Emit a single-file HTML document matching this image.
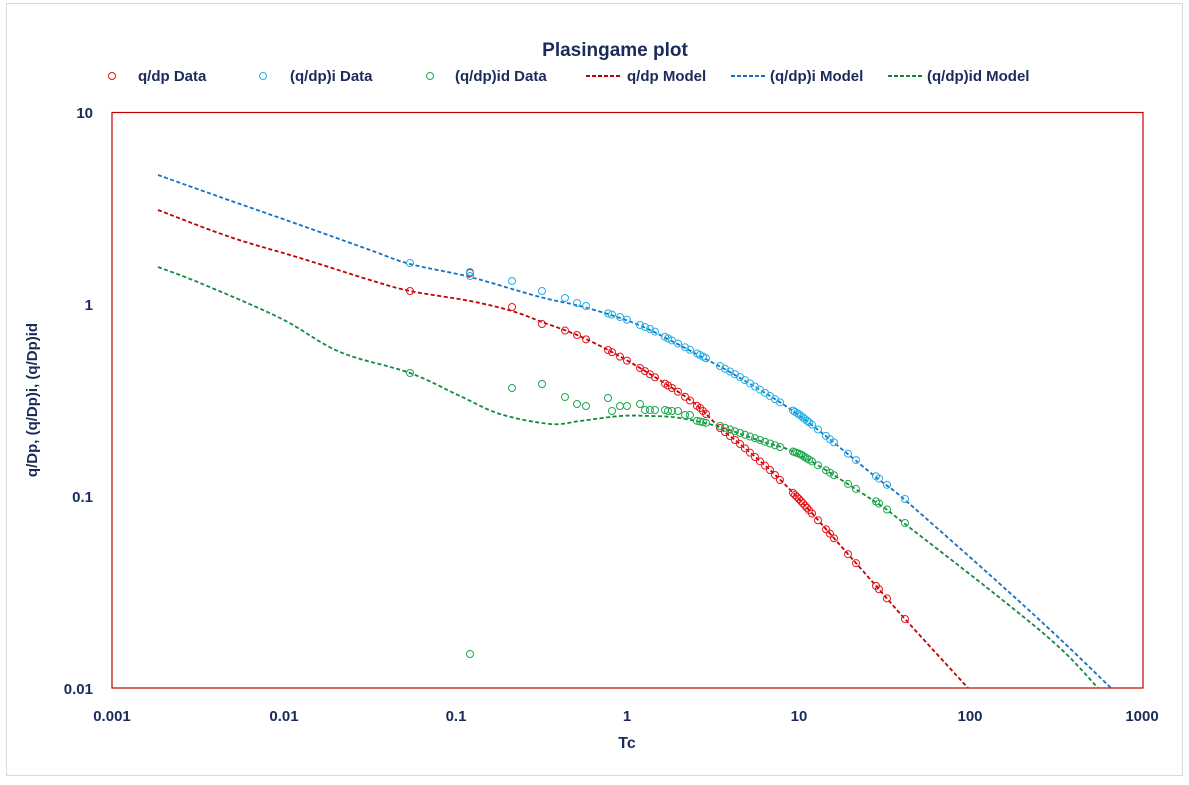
<!DOCTYPE html>
<html><head><meta charset="utf-8"><style>
body{margin:0;background:#fff;width:1189px;height:780px;overflow:hidden}
text{font-family:"Liberation Sans",sans-serif;fill:#1a2b5c;font-weight:bold}
</style></head><body>
<svg id="s" width="1189" height="780" xmlns="http://www.w3.org/2000/svg">
<rect x="6.5" y="3.5" width="1176" height="772" fill="#fff" stroke="#d9d9d9"/>
<text x="615" y="56" font-size="19" text-anchor="middle">Plasingame plot</text>
<g font-size="15">
<circle cx="112" cy="76" r="3.5" fill="none" stroke="#e8151b"/><text x="138" y="81">q/dp Data</text>
<circle cx="263" cy="76" r="3.5" fill="none" stroke="#22b0e8"/><text x="290" y="81">(q/dp)i Data</text>
<circle cx="430" cy="76" r="3.5" fill="none" stroke="#1fa84f"/><text x="455" y="81">(q/dp)id Data</text>
<line x1="586" y1="76" x2="622" y2="76" stroke="#c00000" stroke-width="2" stroke-dasharray="4,2"/><text x="627" y="81">q/dp Model</text>
<line x1="731" y1="76" x2="767" y2="76" stroke="#1570c4" stroke-width="2" stroke-dasharray="4,2"/><text x="770" y="81">(q/dp)i Model</text>
<line x1="888" y1="76" x2="924" y2="76" stroke="#128a3e" stroke-width="2" stroke-dasharray="4,2"/><text x="927" y="81">(q/dp)id Model</text>
</g>
<rect x="112" y="112.5" width="1031" height="575.5" fill="none" stroke="#c00000" stroke-width="1.2"/>
<g font-size="15" text-anchor="end">
<text x="93" y="118">10</text><text x="93" y="310">1</text><text x="93" y="502">0.1</text><text x="93" y="694">0.01</text>
</g>
<g font-size="15" text-anchor="middle">
<text x="112" y="721">0.001</text><text x="284" y="721">0.01</text><text x="456" y="721">0.1</text><text x="627" y="721">1</text><text x="799" y="721">10</text><text x="970" y="721">100</text><text x="1142" y="721">1000</text>
<text x="627" y="748" font-size="16">Tc</text>
</g>
<text transform="translate(37,400) rotate(-90)" font-size="15" text-anchor="middle">q/Dp, (q/Dp)i, (q/Dp)id</text>
</svg>
<script>
var R=[[158,210],[230,237],[300,258],[370,280],[410,291],[470,301],[512,311],[542,322],[577,335],[610,351],[640,368],[680,393],[700,408],[720,428],[740,444],[770,470],[800,500],[840,545],[877,587],[905,619],[968,688]];
var B=[[158,175],[220,197],[300,225],[370,250],[410,264],[470,277],[540,297],[580,306],[620,318],[650,330],[700,356],[740,378],[800,416],[877,478],[905,500],[1000,584],[1060,639],[1111,688]];
var G=[[158,267],[200,283],[280,318],[340,352],[410,373],[460,396],[500,414],[550,424],[580,421],[620,416],[650,416],[680,418],[720,427],[760,441],[800,455],[877,503],[905,524],[1000,598],[1060,648],[1098,688]];
var s=document.getElementById('s'),NS='http://www.w3.org/2000/svg';
function pl(p,c){var d='M'+p[0][0]+','+p[0][1];for(var i=0;i<p.length-1;i++){var p0=p[i-1]||p[i],p1=p[i],p2=p[i+1],p3=p[i+2]||p[i+1];d+=' C'+(p1[0]+(p2[0]-p0[0])/6)+','+(p1[1]+(p2[1]-p0[1])/6)+' '+(p2[0]-(p3[0]-p1[0])/6)+','+(p2[1]-(p3[1]-p1[1])/6)+' '+p2[0]+','+p2[1];}
var e=document.createElementNS(NS,'path');e.setAttribute('d',d);e.setAttribute('fill','none');e.setAttribute('stroke',c);e.setAttribute('stroke-width','1.8');e.setAttribute('stroke-dasharray','4,2.5');s.appendChild(e);}
function f(p,x){for(var i=0;i<p.length-1;i++){if(x>=p[i][0]&&x<=p[i+1][0]){var t=(x-p[i][0])/(p[i+1][0]-p[i][0]);return p[i][1]+t*(p[i+1][1]-p[i][1]);}}return p[p.length-1][1];}
function c(x,y,col){var e=document.createElementNS(NS,'circle');e.setAttribute('cx',x);e.setAttribute('cy',y);e.setAttribute('r',3.5);e.setAttribute('fill','none');e.setAttribute('stroke',col);e.setAttribute('stroke-width','1');s.appendChild(e);}
pl(R,'#c00000');pl(B,'#1570c4');pl(G,'#128a3e');
var X=[410,470,512,542,565,577,586,608,612,620,627,640,645,650,655,665,668,672,678,685,690,697,700,703,706,720,725,730,735,740,745,750,755,760,765,770,775,780,793,795,797,799,801,803,805,807,809,812,818,826,830,834,848,856,876,879,887,905];
var GE={410:373,470:654,512:388,542:384,565:397,577:404,586:406,608:398,612:411,620:406,627:406,640:404,645:410,650:410,655:410,665:410,668:411,672:411,678:411,685:415,690:415};
var RE={470:273,512:307,542:324};
var BE={512:281,542:291,565:298,577:303,586:306};
X.forEach(function(x){c(x,RE[x]!==undefined?RE[x]:f(R,x),'#e8151b');c(x,BE[x]!==undefined?BE[x]:f(B,x)-1,'#22b0e8');c(x,GE[x]!==undefined?GE[x]:f(G,x)-1,'#1fa84f');});
c(470,272,'#22b0e8');
</script>
</body></html>
